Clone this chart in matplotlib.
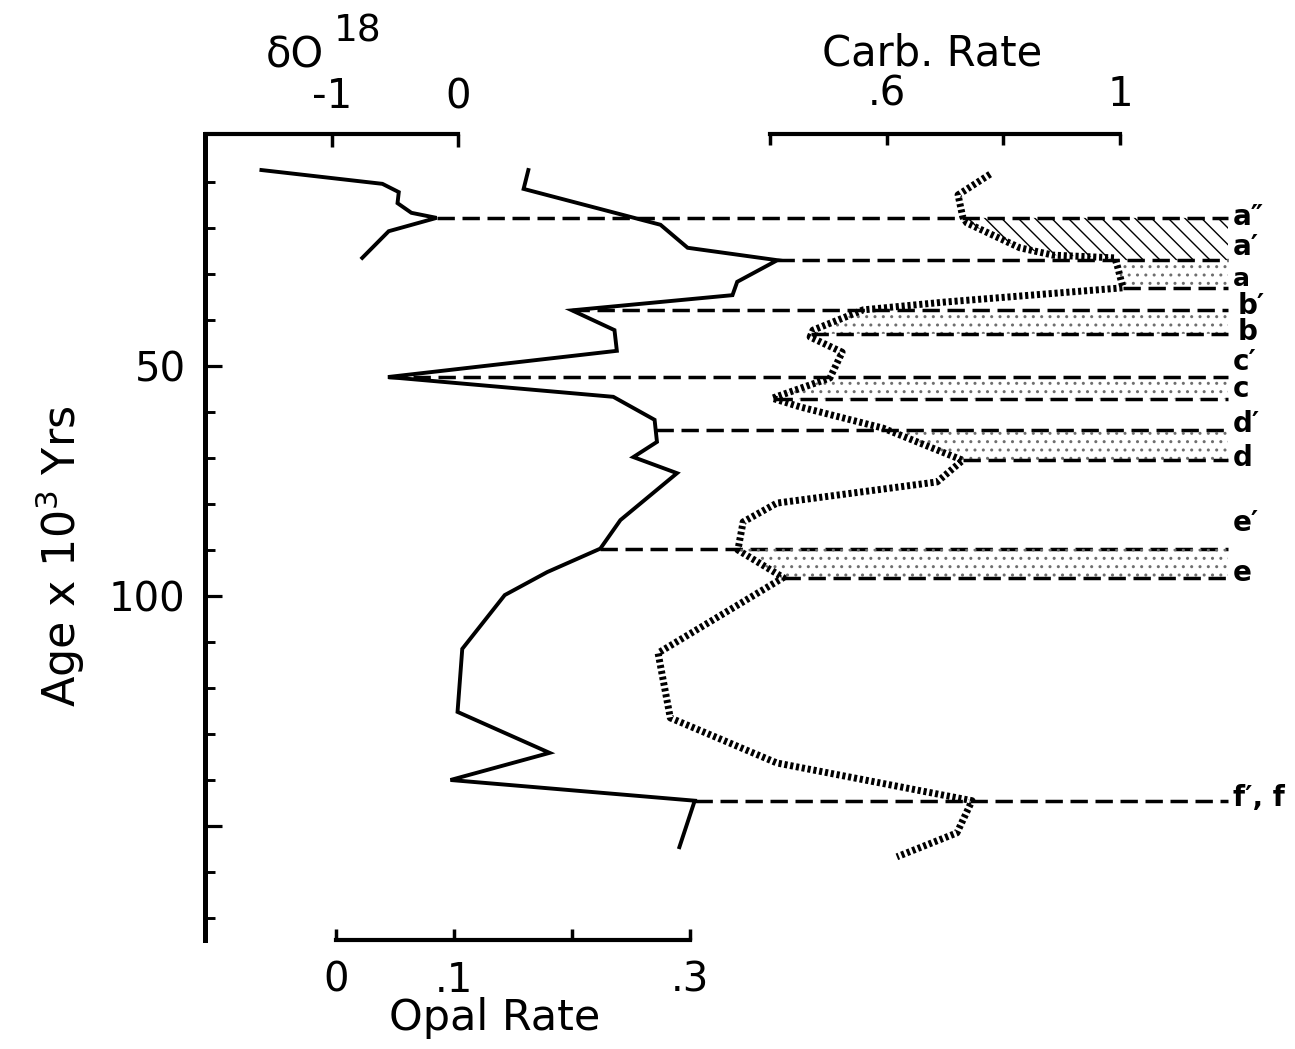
import numpy as np
import matplotlib
matplotlib.use("Agg")
import matplotlib.pyplot as plt
from matplotlib import transforms
from matplotlib.ticker import FixedLocator

# values (age in 10^3 yr)
d18o_age = [7.4, 10.4, 12.2, 14.6, 16.7, 17.8, 20.7, 26.5]
d18o_val = [-1.56, -0.60, -0.47, -0.48, -0.37, -0.17, -0.55, -0.76]

opal_age = [7.4, 11.5, 19.3, 24.3, 27.0, 31.7, 34.6, 37.9, 42.2, 46.7, 52.4,
            56.7, 61.7, 66.5, 69.8, 73.3, 83.5, 89.7, 94.8, 99.8, 111.5,
            125.2, 134.1, 140.0, 144.5, 154.6]
opal_val = [0.163, 0.159, 0.275, 0.298, 0.374, 0.340, 0.336, 0.200, 0.236,
            0.238, 0.044, 0.235, 0.270, 0.272, 0.252, 0.289, 0.241, 0.224,
            0.179, 0.143, 0.107, 0.103, 0.181, 0.097, 0.304, 0.291]

carb_age = [8.3, 12.8, 17.6, 18.9, 24.3, 25.9, 26.5, 28.5, 33.0, 36.1, 37.8,
            42.2, 43.7, 47.0, 52.6, 57.0, 58.9, 63.5, 70.5, 75.2, 79.8, 83.9,
            90.0, 96.0, 112.4, 126.5, 136.3, 144.5, 151.5, 156.7]
carb_val = [0.777, 0.722, 0.730, 0.737, 0.828, 0.885, 0.991, 0.996, 1.005,
            0.699, 0.559, 0.473, 0.468, 0.523, 0.502, 0.403, 0.451, 0.593,
            0.730, 0.686, 0.411, 0.353, 0.344, 0.422, 0.207, 0.228, 0.411,
            0.746, 0.720, 0.617]

# correlation levels: label, age of the line, curve the line starts from
corr_names = ['a″', 'a′', 'a', 'b′', 'b', 'c′', 'c', 'd′', 'd', 'e′', 'e', 'f′, f']
corr_age = [17.8, 27.0, 33.0, 37.9, 43.0, 52.4, 57.2, 64.0, 70.5, 89.7, 96.0, 144.5]
corr_from = ['d18o', 'opal', 'carb', 'opal', 'carb', 'opal', 'carb', 'opal',
             'carb', 'opal', 'carb', 'opal']
label_age = [17.6, 24.1, 31.0, 37.0, 42.6, 49.1, 55.0, 62.6, 70.0, 84.1, 95.0, 143.9]

hatched_band = ('a″', 'a′')
dotted_bands = [('a′', 'a'), ('b′', 'b'), ('c′', 'c'), ('d′', 'd'), ('e′', 'e')]

# ---- layout (pixels of the 1295x1049 picture) ----
W, H, DPI = 1295, 1049, 100
X0, X1, Y0, Y1 = 205, 1240, 134, 940
AGE0_PX, PX_PER_KYR = 136, 4.6
LINE_END_PX = 1228
LABEL_PX = {'b′': 1238, 'b': 1238}
LABEL_FS = {'a': 18}

# value <-> pixel anchors for each horizontal scale
ANCH = {'d18o': (-1.0, 332, 0.0, 458),
        'opal': (0.0, 336, 0.3, 690),
        'carb': (0.6, 887, 1.0, 1120)}


def px_to_val(key, px):
    v0, p0, v1, p1 = ANCH[key]
    return v0 + (px - p0) * (v1 - v0) / (p1 - p0)


fig = plt.figure(figsize=(W / DPI, H / DPI), dpi=DPI)
rect = [X0 / W, 1 - Y1 / H, (X1 - X0) / W, (Y1 - Y0) / H]
ax = fig.add_axes(rect)
ax_op = fig.add_axes(rect, sharey=ax)
ax_cb = fig.add_axes(rect, sharey=ax)
axes = {'d18o': ax, 'opal': ax_op, 'carb': ax_cb}

ax.set_ylim((Y1 - AGE0_PX) / PX_PER_KYR, (Y0 - AGE0_PX) / PX_PER_KYR)
for key, a in axes.items():
    a.set_xlim(px_to_val(key, X0), px_to_val(key, X1))
    for s in a.spines.values():
        s.set_visible(False)
    a.patch.set_visible(False)
    if a is not ax:
        a.yaxis.set_visible(False)

BLACK = 'black'
FS = 29

# left age axis
ax.spines['left'].set_visible(True)
ax.spines['left'].set_linewidth(3.6)
ax.set_yticks([50, 100, 150], ['50', '100', ''])
ax.yaxis.set_minor_locator(FixedLocator([t for t in range(10, 171, 10) if t % 50]))
ax.tick_params(axis='y', which='major', direction='in', length=12, width=2.3,
               pad=14, labelsize=FS)
ax.tick_params(axis='y', which='minor', direction='in', length=7, width=2.1)

# d18O scale on top
ax.xaxis.tick_top()
ax.spines['top'].set_visible(True)
ax.spines['top'].set_linewidth(3)
ax.spines['top'].set_bounds(-2.0, 0.0)
ax.set_xticks([-1, 0], ['-1', '0'])
ax.tick_params(axis='x', direction='in', length=9, width=2.5, pad=12, labelsize=FS)

# carbonate rate scale on top
ax_cb.xaxis.tick_top()
ax_cb.spines['top'].set_visible(True)
ax_cb.spines['top'].set_linewidth(3)
ax_cb.spines['top'].set_bounds(0.4, 1.0)
ax_cb.set_xticks([0.4, 0.6, 0.8, 1.0], ['', '.6', '', '1'])
ax_cb.tick_params(axis='x', direction='in', length=8, width=2.5, pad=14, labelsize=FS)

# opal rate scale at the bottom
ax_op.xaxis.tick_bottom()
ax_op.spines['bottom'].set_visible(True)
ax_op.spines['bottom'].set_linewidth(3)
ax_op.spines['bottom'].set_bounds(0.0, 0.3)
ax_op.set_xticks([0, 0.1, 0.2, 0.3], ['0', '.1', '', '.3'])
ax_op.tick_params(axis='x', direction='in', length=8, width=2.5, pad=15, labelsize=FS)

# curves
ax.plot(d18o_val, d18o_age, color=BLACK, lw=2.8, solid_joinstyle='miter')
ax_op.plot(opal_val, opal_age, color=BLACK, lw=2.8, solid_joinstyle='miter')
ax_cb.plot(carb_val, carb_age, color=BLACK, lw=5.0, linestyle=(0, (0.45, 0.4)),
           dash_capstyle='butt')

series = {'d18o': (d18o_age, d18o_val), 'opal': (opal_age, opal_val),
          'carb': (carb_age, carb_val)}

# dashed correlation lines
for age, src in zip(corr_age, corr_from):
    sa, sv = series[src]
    x_start = np.interp(age, sa, sv)
    x_end = px_to_val(src, LINE_END_PX)
    axes[src].plot([x_start, x_end], [age, age], color=BLACK, lw=2.5,
                   linestyle=(0, (5.0, 2.2)), dash_capstyle='butt')

# shaded bands between carbonate curve and right end
plt.rcParams['hatch.linewidth'] = 1.0
carb_end = px_to_val('carb', LINE_END_PX)


def band(top, bottom):
    lo = corr_age[corr_names.index(top)]
    hi = corr_age[corr_names.index(bottom)]
    ys = np.array([lo] + [a for a in carb_age if lo < a < hi] + [hi])
    return ys, np.interp(ys, carb_age, carb_val)


ys, xs = band(*hatched_band)
ax_cb.fill_betweenx(ys, xs, carb_end, facecolor='none', edgecolor=BLACK,
                    hatch='\\\\', linewidth=0)
for pair in dotted_bands:
    ys, xs = band(*pair)
    ax_cb.fill_betweenx(ys, xs, carb_end, facecolor='none', edgecolor='#6e6e6e',
                        hatch='..', linewidth=0)

# level labels on the right
lab_tr = transforms.blended_transform_factory(ax_cb.transAxes, ax_cb.transData)
for name, age in zip(corr_names, label_age):
    px = LABEL_PX.get(name, 1233)
    ax_cb.text((px - X0) / (X1 - X0), age, name, transform=lab_tr,
               fontsize=LABEL_FS.get(name, 20), fontweight='bold',
               ha='left', va='center', clip_on=False)

# axis titles
fig.text(266 / W, 1 - 68 / H, 'δO', fontsize=30, ha='left', va='baseline')
fig.text(334 / W, 1 - 42 / H, '18', fontsize=27, ha='left', va='baseline')
fig.text(932 / W, 1 - 65 / H, 'Carb. Rate', fontsize=30, ha='center', va='baseline')
fig.text(495 / W, 1 - 1030 / H, 'Opal Rate', fontsize=31, ha='center', va='baseline')
fig.text(60 / W, 1 - 556 / H, 'Age x 10$^3$ Yrs', fontsize=32, rotation=90,
         ha='center', va='center')

fig.savefig('out.png', dpi=DPI)
